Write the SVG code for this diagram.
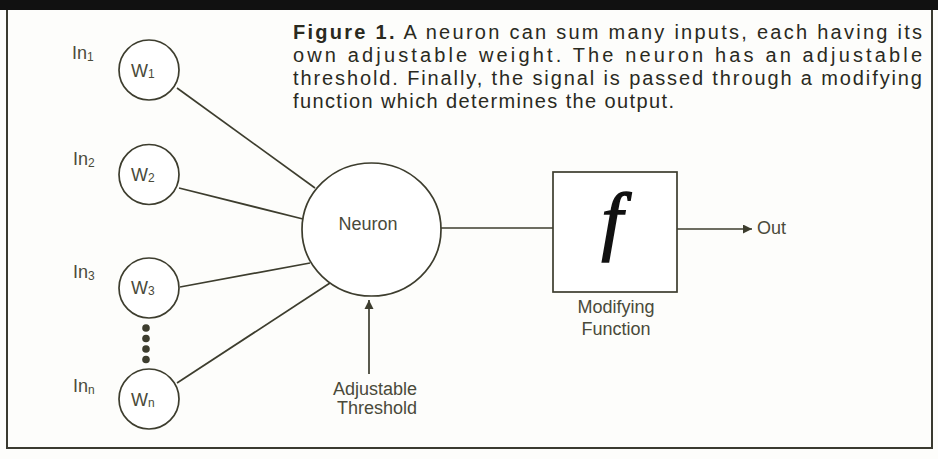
<svg xmlns="http://www.w3.org/2000/svg" width="938" height="459" viewBox="0 0 938 459">
<style>
  .ln { stroke: #3d3d2e; stroke-width: 1.7; fill: none; }
  .node { stroke: #3d3d2e; stroke-width: 1.7; fill: #ffffff; }
  .cap { font-family: "Liberation Sans", Arial, sans-serif; font-size: 20px; fill: #2a2a1e; }
  .lbl { font-family: "Liberation Sans", Arial, sans-serif; font-size: 18px; fill: #4a4a3a; }
  .sub { font-size: 12px; }
  .dot { fill: #3d3d2e; }
</style>
<defs>
  <marker id="ah" viewBox="0 0 10 10" refX="10" refY="5" markerWidth="9" markerHeight="12" markerUnits="userSpaceOnUse" orient="auto">
    <path d="M0,0 L10,5 L0,10 z" fill="#3d3d2e"/>
  </marker>
  <marker id="ah2" viewBox="0 0 10 10" refX="10" refY="5" markerWidth="13" markerHeight="9" markerUnits="userSpaceOnUse" orient="auto">
    <path d="M0,0 L10,5 L0,10 z" fill="#3d3d2e"/>
  </marker>
</defs>
<rect x="0" y="0" width="938" height="459" fill="#fdfdfb"/>
<rect x="0" y="0" width="938" height="10" fill="#111111"/>
<path d="M7,10 V448 H932 V10" fill="none" stroke="#3a3a30" stroke-width="2"/>

<g id="caption">
  <text class="cap" x="293" y="39" textLength="629" lengthAdjust="spacing"><tspan font-weight="bold">Figure 1.</tspan> A neuron can sum many inputs, each having its</text>
  <text class="cap" x="293" y="62" textLength="629" lengthAdjust="spacing">own adjustable weight. The neuron has an adjustable</text>
  <text class="cap" x="293" y="85" textLength="629" lengthAdjust="spacing">threshold. Finally, the signal is passed through a modifying</text>
  <text class="cap" x="293" y="108" textLength="381" lengthAdjust="spacing">function which determines the output.</text>
</g>

<g id="connectors">
  <line class="ln" x1="177" y1="88" x2="315" y2="188"/>
  <line class="ln" x1="179" y1="188" x2="303" y2="219"/>
  <line class="ln" x1="180" y1="287" x2="310" y2="263"/>
  <line class="ln" x1="177" y1="383" x2="330" y2="283"/>
  <line class="ln" x1="441" y1="228" x2="553" y2="228"/>
  <line class="ln" x1="677" y1="229" x2="752" y2="229" marker-end="url(#ah2)"/>
  <line class="ln" x1="369" y1="374" x2="369" y2="300" marker-end="url(#ah)"/>
</g>

<g id="in1">
  <text class="lbl" x="72" y="59">In<tspan class="sub" dy="2">1</tspan></text>
  <circle class="node" cx="149" cy="70" r="30"/>
  <text class="lbl" x="131" y="77">W<tspan class="sub" dy="1">1</tspan></text>
</g>
<g id="in2">
  <text class="lbl" x="73" y="165">In<tspan class="sub" dy="2">2</tspan></text>
  <circle class="node" cx="149" cy="174.5" r="30"/>
  <text class="lbl" x="131" y="181">W<tspan class="sub" dy="1">2</tspan></text>
</g>
<g id="in3">
  <text class="lbl" x="73" y="278">In<tspan class="sub" dy="2">3</tspan></text>
  <circle class="node" cx="149" cy="288" r="30"/>
  <text class="lbl" x="131" y="294">W<tspan class="sub" dy="1">3</tspan></text>
</g>
<g id="ellipsis">
  <circle class="dot" cx="146" cy="328" r="3.8"/>
  <circle class="dot" cx="146" cy="338.5" r="3.8"/>
  <circle class="dot" cx="146" cy="349" r="3.8"/>
  <circle class="dot" cx="146" cy="359.5" r="3.8"/>
</g>
<g id="inn">
  <text class="lbl" x="73" y="392">In<tspan class="sub" dy="2">n</tspan></text>
  <circle class="node" cx="149" cy="399" r="30"/>
  <text class="lbl" x="131" y="406">W<tspan class="sub" dy="1">n</tspan></text>
</g>

<g id="neuron">
  <ellipse class="node" cx="371.5" cy="229.5" rx="69.5" ry="66.5"/>
  <text class="lbl" x="368" y="230" text-anchor="middle">Neuron</text>
</g>

<g id="threshold">
  <text class="lbl" x="375" y="395" text-anchor="middle">Adjustable</text>
  <text class="lbl" x="377" y="414" text-anchor="middle">Threshold</text>
</g>

<g id="function">
  <rect class="node" x="553" y="172" width="124" height="120"/>
  <text x="612" y="246" text-anchor="middle" font-family="'Liberation Serif', 'Times New Roman', serif" font-style="italic" font-size="76" fill="#111111" stroke="#111111" stroke-width="1.6">f</text>
  <text class="lbl" x="616" y="313" text-anchor="middle" font-size="18.5">Modifying</text>
  <text class="lbl" x="616" y="335" text-anchor="middle" font-size="18.5">Function</text>
</g>

<g id="out">
  <text class="lbl" x="757" y="234">Out</text>
</g>
</svg>
